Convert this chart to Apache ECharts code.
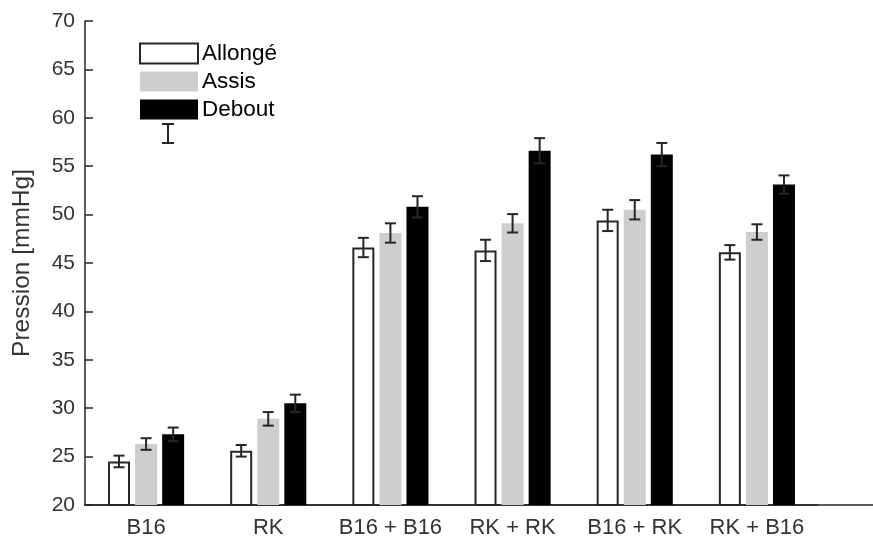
<!DOCTYPE html>
<html>
<head>
<meta charset="utf-8">
<script src="https://cdn.jsdelivr.net/npm/echarts@6/dist/echarts.min.js"></script>
<style>html,body{margin:0;padding:0;background:#fff}#c{width:873px;height:539px}</style>
</head>
<body>
<div id="c"></div>
<script>
const categories = ['B16', 'RK', 'B16 + B16', 'RK + RK', 'B16 + RK', 'RK + B16'];
const allonge = [24.5, 25.6, 46.6, 46.3, 49.4, 46.1];
const assis = [26.3, 28.9, 48.1, 49.1, 50.5, 48.2];
const debout = [27.3, 30.5, 50.8, 56.6, 56.2, 53.1];
const errAllonge = [0.6, 0.6, 1.0, 1.1, 1.1, 0.75];
const errAssis = [0.6, 0.7, 1.0, 0.95, 1.0, 0.8];
const errDebout = [0.7, 0.9, 1.1, 1.3, 1.2, 0.95];
const yTicks = [20, 25, 30, 35, 40, 45, 50, 55, 60, 65, 70];
const seriesNames = ['Allongé', 'Assis', 'Debout'];

const AX = '#262626';
const TXT = '#333333';
const FONT = 'Liberation Sans, Arial, sans-serif';
const BAR_W = 22;
const BAR_GAP = '23%';

const values = [allonge, assis, debout];
const errs = [errAllonge, errAssis, errDebout];
const errData = [];
for (let s = 0; s < 3; s++) {
  for (let i = 0; i < categories.length; i++) {
    errData.push([i, s, values[s][i], errs[s][i]]);
  }
}

const chart = echarts.init(document.getElementById('c'), null, {renderer: 'canvas'});
chart.setOption({
  animation: false,
  backgroundColor: '#fff',
  textStyle: {fontFamily: FONT},
  grid: [
    {left: 85, right: 55, top: 21, bottom: 34},
    {left: 85, right: 0, top: 21, bottom: 34}
  ],
  legend: [
    {
      orient: 'vertical', left: 139, top: 42, padding: 0,
      itemWidth: 58, itemHeight: 20, itemGap: 5,
      selectedMode: false,
      textStyle: {fontFamily: FONT, fontSize: 22.5, color: '#000', lineHeight: 20, padding: [0, 0, 0, -1]},
      data: [
        {name: seriesNames[0], icon: 'rect', itemStyle: {color: '#fff', borderColor: AX, borderWidth: 2}},
        {name: seriesNames[1], icon: 'rect', itemStyle: {color: '#cdcecf', borderWidth: 0}},
        {name: seriesNames[2], icon: 'rect', itemStyle: {color: '#000', borderWidth: 0}}
      ]
    },
    {
      left: 162, top: 123, padding: 0,
      itemWidth: 12, itemHeight: 21,
      selectedMode: false,
      textStyle: {fontSize: 12, color: '#000'},
      data: [{name: ' ', icon: 'path://M0,0H12V2H7V19H12V21H0V19H5V2H0Z', itemStyle: {color: AX}}]
    }
  ],
  xAxis: [
    {
      type: 'category', gridIndex: 0, data: categories,
      axisLine: {show: true, lineStyle: {color: AX, width: 1.5}},
      axisTick: {show: true, inside: true, length: 8, alignWithLabel: true, lineStyle: {color: AX, width: 1.5}},
      axisLabel: {color: TXT, fontSize: 22, fontFamily: FONT, margin: 12, interval: 0},
      splitLine: {show: false}
    },
    {
      type: 'value', gridIndex: 1, min: 0, max: 1,
      axisLine: {show: true, onZero: false, lineStyle: {color: AX, width: 1.5}},
      axisTick: {show: false}, axisLabel: {show: false}, splitLine: {show: false}
    }
  ],
  yAxis: [
    {
      type: 'value', gridIndex: 0, min: 20, max: 70, interval: 5,
      name: 'Pression [mmHg]', nameLocation: 'middle', nameRotate: 90, nameGap: 50,
      nameTextStyle: {color: TXT, fontSize: 24.5, fontFamily: FONT},
      axisLine: {show: true, lineStyle: {color: AX, width: 1.5}},
      axisTick: {show: true, inside: true, length: 8, lineStyle: {color: AX, width: 1.5}},
      axisLabel: {color: TXT, fontSize: 21, fontFamily: FONT, margin: 10,
        formatter: v => (yTicks.indexOf(v) >= 0 ? String(v) : '')},
      splitLine: {show: false}
    },
    {
      type: 'value', gridIndex: 1, min: 0, max: 1, show: false
    }
  ],
  series: [
    {
      name: seriesNames[0], type: 'bar', xAxisIndex: 0, yAxisIndex: 0,
      data: allonge, barWidth: BAR_W, barGap: BAR_GAP,
      itemStyle: {color: '#fff', borderColor: AX, borderWidth: 2}
    },
    {
      name: seriesNames[1], type: 'bar', xAxisIndex: 0, yAxisIndex: 0,
      data: assis, barWidth: BAR_W, barGap: BAR_GAP,
      itemStyle: {color: '#cdcecf'}
    },
    {
      name: seriesNames[2], type: 'bar', xAxisIndex: 0, yAxisIndex: 0,
      data: debout, barWidth: BAR_W, barGap: BAR_GAP,
      itemStyle: {color: '#000'}
    },
    {
      name: ' ', type: 'custom', xAxisIndex: 0, yAxisIndex: 0, z: 5,
      itemStyle: {color: AX},
      encode: {x: 0, y: 2},
      data: errData,
      renderItem: function (params, api) {
        const ci = api.value(0);
        const s = api.value(1);
        const v = api.value(2);
        const e = api.value(3);
        const layout = api.barLayout({barWidth: BAR_W, barGap: BAR_GAP, count: 3});
        const c = api.coord([ci, v]);
        const x = c[0] + layout[s].offsetCenter;
        const yTop = api.coord([ci, v + e])[1];
        const yBot = api.coord([ci, v - e])[1];
        const hw = 5.5;
        const st = {stroke: AX, lineWidth: 2};
        return {
          type: 'group',
          children: [
            {type: 'line', shape: {x1: x, y1: yTop, x2: x, y2: yBot}, style: st},
            {type: 'line', shape: {x1: x - hw, y1: yTop, x2: x + hw, y2: yTop}, style: st},
            {type: 'line', shape: {x1: x - hw, y1: yBot, x2: x + hw, y2: yBot}, style: st}
          ]
        };
      }
    }
  ]
});
</script>
</body>
</html>
